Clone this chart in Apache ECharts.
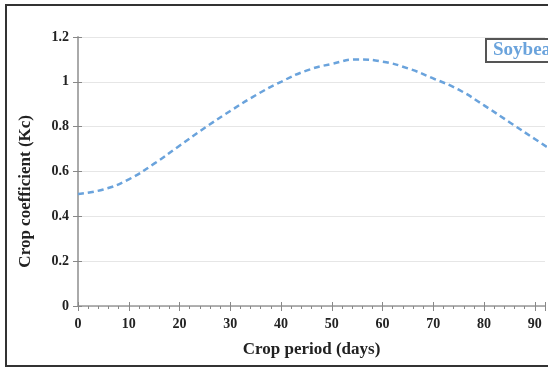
<!DOCTYPE html>
<html>
<head>
<meta charset="utf-8">
<script src="https://cdn.jsdelivr.net/npm/echarts@6/dist/echarts.min.js"></script>
<style>
  html, body { margin: 0; padding: 0; width: 548px; height: 367px; overflow: hidden; background: #fff; }
  #frame { position: absolute; left: 5px; top: 4px; width: 700px; height: 359px; border: 2px solid #333; }
  #chart { position: absolute; left: -7px; top: -6px; width: 640px; height: 367px; }
</style>
</head>
<body>
<div id="frame"><div id="chart"></div></div>
<script>
const days = [0, 5, 10, 15, 20, 25, 30, 35, 40, 45, 50, 55, 60, 65, 70, 75, 80, 85, 90, 95];
const kc = [0.50, 0.52, 0.565, 0.635, 0.715, 0.795, 0.87, 0.94, 1.00, 1.05, 1.08, 1.10, 1.09, 1.06, 1.015, 0.965, 0.895, 0.82, 0.745, 0.67];
const seriesName = "Soybean";

const font = "Liberation Serif";
const tickColor = "#888";
// second axes draw the inner half of the "cross" tick marks
const chart = echarts.init(document.getElementById("chart"));
chart.setOption({
  animation: false,
  grid: { left: 78, top: 37, width: 467, height: 269 },
  legend: {
    left: 486, top: 39,
    data: [{ name: seriesName, icon: "none" }],
    itemWidth: 0, itemHeight: 0, itemGap: 0,
    padding: [2, 6, 2, 2],
    borderColor: "#555", borderWidth: 2,
    textStyle: { color: "#6aa3dc", fontFamily: font, fontWeight: "bold", fontSize: 19 }
  },
  xAxis: [{
    type: "value", min: 0, max: 92, interval: 10,
    name: "Crop period (days)", nameLocation: "middle", nameGap: 35,
    nameTextStyle: { fontFamily: font, fontWeight: "bold", fontSize: 17, color: "#222" },
    axisLine: { show: true, lineStyle: { color: "#999", width: 1.5 } },
    axisTick: { show: true, length: 5, lineStyle: { color: tickColor } },
    minorTick: { show: true, splitNumber: 5, length: 3, lineStyle: { color: tickColor } },
    splitLine: { show: false },
    axisLabel: { showMaxLabel: false, margin: 11, fontFamily: font, fontWeight: "bold", fontSize: 14, color: "#222" }
  }, {
    type: "value", min: 0, max: 92, interval: 10, position: "bottom",
    axisLine: { show: false },
    axisTick: { show: true, inside: true, length: 4, lineStyle: { color: tickColor } },
    minorTick: { show: false },
    splitLine: { show: false },
    axisLabel: { show: false }
  }],
  yAxis: [{
    type: "value", min: 0, max: 1.2, interval: 0.2,
    axisLine: { show: true, lineStyle: { color: "#aaa", width: 2 } },
    axisTick: { show: true, length: 5, lineStyle: { color: tickColor } },
    splitLine: { lineStyle: { color: "#e6e6e6" } },
    axisLabel: { margin: 9, fontFamily: font, fontWeight: "bold", fontSize: 14, color: "#222",
      formatter: v => String(Math.round(v * 10) / 10) }
  }, {
    type: "value", min: 0, max: 1.2, interval: 0.2, position: "left",
    axisLine: { show: false },
    axisTick: { show: true, inside: true, length: 4, lineStyle: { color: tickColor } },
    splitLine: { show: false },
    axisLabel: { show: false }
  }],
  graphic: [{
    type: "text", left: 17, top: 115, rotation: Math.PI / 2,
    style: { text: "Crop coefficient (Kc)", fontFamily: font, fontWeight: "bold", fontSize: 17, fill: "#222" }
  }],
  series: [{
    name: seriesName, type: "line", smooth: true, showSymbol: false,
    data: days.map((d, i) => [d, kc[i]]),
    lineStyle: { color: "#6aa3dc", width: 2.5, type: [6, 4] },
    itemStyle: { color: "#6aa3dc" }
  }]
});
</script>
</body>
</html>
